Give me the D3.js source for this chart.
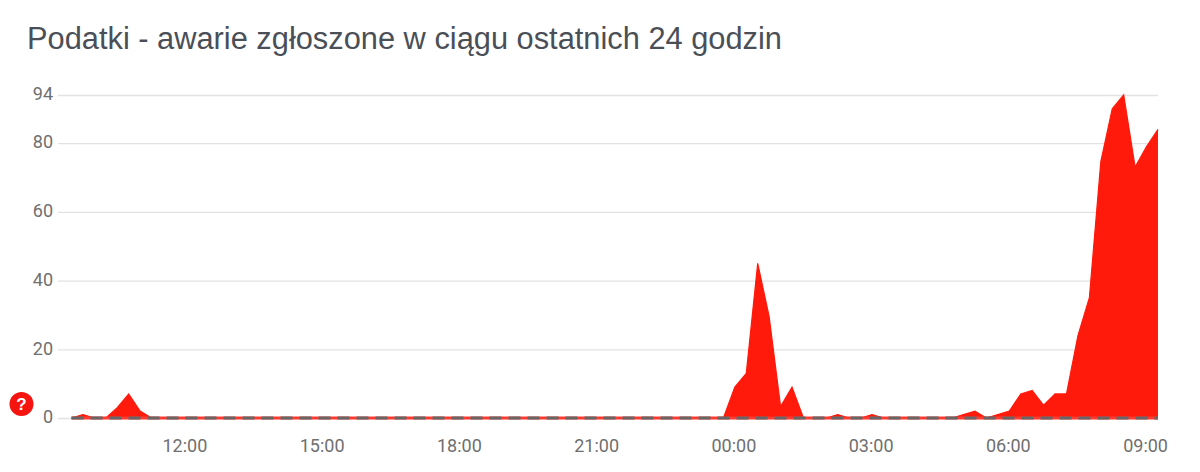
<!DOCTYPE html>
<html><head><meta charset="utf-8">
<script src="https://cdn.jsdelivr.net/npm/d3@7"></script>
<style>html,body{margin:0;padding:0;background:#fff;overflow:hidden}svg{display:block}</style>
</head><body><svg id="c" width="1200" height="472"></svg>
<script>
const titleText = "Podatki - awarie zgłoszone w ciągu ostatnich 24 godzin";
const yTicks = [0,20,40,60,80,94];
const xTickLabels = ["12:00","15:00","18:00","21:00","00:00","03:00","06:00","09:00"];
const xTickSlots = [10,22,34,46,58,70,82,94];
const reports = [
0,1,0,0,3,7,2,0,0,0,0,0,0,0,0,0,0,0,0,0,
0,0,0,0,0,0,0,0,0,0,0,0,0,0,0,0,0,0,0,0,
0,0,0,0,0,0,0,0,0,0,0,0,0,0,0,0,0,0,9,13,
45,29.5,3.3,9,0,0,0,1,0,0,1,0,0,0,0,0,0,0,1,2,
0,1,2,7,8,3.7,7,7,24,35,74.6,90,94,73,79,84];

const svg = d3.select("#c");
const x = d3.scaleLinear().domain([0,95]).range([71.5,1158]);
const y = d3.scaleLinear().domain([0,94]).range([418,95]);
const gridColor = "#e2e2e2", tickColor = "#6f6f6f";

svg.append("text").attr("x",27).attr("y",49)
  .attr("font-family","'Liberation Sans',Arial,sans-serif").attr("font-size",30.8)
  .attr("fill","#4a4f57").text(titleText);

const yAxis = d3.axisLeft(y).tickValues(yTicks).tickSize(0).tickPadding(0).tickFormat(d3.format("d"));
const gy = svg.append("g").attr("transform","translate(53,-1)").call(yAxis);
gy.select(".domain").remove();
gy.selectAll("text").attr("font-family","Roboto,sans-serif").attr("font-size",18).attr("fill",tickColor);

svg.append("g").selectAll("line").data(yTicks).join("line")
  .attr("x1",58).attr("x2",1158).attr("y1",d=>y(d)+0.5).attr("y2",d=>y(d)+0.5)
  .attr("stroke",gridColor).attr("stroke-width",1.3);

const area = d3.area().x((d,i)=>x(i)).y0(y(0)).y1(d=>y(d));
svg.append("path").datum(reports).attr("d",area).attr("fill","#ff1a0c");
const line = d3.line().x((d,i)=>x(i)).y(d=>y(d));
svg.append("path").datum(reports).attr("d",line).attr("fill","none").attr("stroke","#ff1a0c").attr("stroke-width",1.2);

svg.append("line").attr("x1",x(0)).attr("x2",x(95)).attr("y1",y(0)).attr("y2",y(0))
  .attr("stroke","#ff3a30").attr("stroke-width",3);
svg.append("line").attr("x1",x(0)).attr("x2",x(95)).attr("y1",y(0)).attr("y2",y(0))
  .attr("stroke","#666666").attr("stroke-width",3).attr("stroke-dasharray","12,7");

const xAxis = d3.axisBottom(x).tickValues(xTickSlots).tickSize(0).tickPadding(0)
  .tickFormat((d,i)=>xTickLabels[i]);
const gx = svg.append("g").attr("transform","translate(-1.5,439)").call(xAxis);
gx.select(".domain").remove();
gx.selectAll("text").attr("font-family","Roboto,sans-serif").attr("font-size",18).attr("fill",tickColor);

svg.append("circle").attr("cx",21.5).attr("cy",404).attr("r",12).attr("fill","#f5140f");
svg.append("text").attr("x",21.5).attr("y",410).attr("text-anchor","middle")
  .attr("font-family","'Liberation Sans',Arial,sans-serif").attr("font-weight","bold").attr("font-size",17)
  .attr("fill","#fff").text("?");
</script></body></html>
